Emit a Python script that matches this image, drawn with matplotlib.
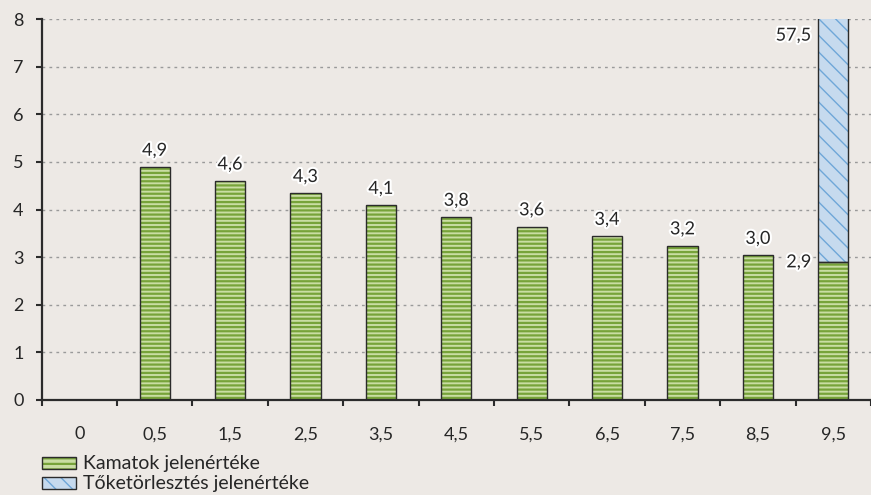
import numpy as np
import matplotlib.pyplot as plt
import matplotlib.patheffects as pe
from matplotlib.patches import Rectangle

# Data
categories = ["0", "0,5", "1,5", "2,5", "3,5", "4,5", "5,5", "6,5", "7,5", "8,5", "9,5"]
interest = [0, 4.89, 4.60, 4.34, 4.09, 3.84, 3.64, 3.44, 3.24, 3.04, 2.89]
principal = [0, 0, 0, 0, 0, 0, 0, 0, 0, 0, 57.5]
series_names = ["Kamatok jelenértéke", "Tőketörlesztés jelenértéke"]

BG = "#EDE9E5"
GREEN_LIGHT = "#C9DDA3"
GREEN_DARK = "#77A33A"
BLUE_LIGHT = "#C6DAEE"
BLUE_DARK = "#6FA7D8"
OUTLINE = "#2B2B2B"
TEXT = "#262626"
FS = 13

W, H = 871, 495

plt.rcParams['font.family'] = ['Lato', 'DejaVu Sans']
plt.rcParams['hatch.linewidth'] = 1.6

fig = plt.figure(figsize=(W / 100, H / 100), dpi=100, facecolor=BG)
ax = fig.add_axes([41.5 / W, 95 / H, 829.5 / W, 381 / H])
ax.set_facecolor(BG)

x = np.arange(len(categories))
width = 0.4

# green bars: hatch drawn in edge color, outline drawn separately
ax.bar(x, interest, width, color=GREEN_LIGHT, edgecolor=GREEN_DARK, hatch='----', linewidth=0, zorder=3)
ax.bar(x, interest, width, fill=False, edgecolor=OUTLINE, linewidth=1.0, zorder=4)

pr = np.array(principal)
mask = pr > 0
plt.rcParams['hatch.linewidth'] = 1.0
ax.bar(x[mask], pr[mask], width, bottom=np.array(interest)[mask], color=BLUE_LIGHT,
       edgecolor=BLUE_DARK, hatch='\\\\', linewidth=0, zorder=3)
ax.bar(x[mask], pr[mask], width, bottom=np.array(interest)[mask], fill=False,
       edgecolor=OUTLINE, linewidth=1.0, zorder=4)

stroke = [pe.withStroke(linewidth=3, foreground='white')]

# value labels
for i, v in enumerate(interest):
    if v == 0:
        continue
    lab = f"{v:.1f}".replace('.', ',')
    if principal[i] > 0:
        ax.annotate(lab, (x[i] - width / 2, v), xytext=(-5, 0), textcoords='offset points',
                    ha='right', va='center', fontsize=FS, color=TEXT, path_effects=stroke, zorder=5)
        plab = f"{principal[i]:.1f}".replace('.', ',')
        ax.annotate(plab, (x[i] - width / 2, 8), xytext=(-5, -12), textcoords='offset points',
                    ha='right', va='center', fontsize=FS, color=TEXT, path_effects=stroke, zorder=5)
    else:
        ax.annotate(lab, (x[i], v), xytext=(0, 6), textcoords='offset points',
                    ha='center', va='bottom', fontsize=FS, color=TEXT, path_effects=stroke, zorder=5)

ax.set_ylim(0, 8)
ax.set_xlim(-0.5, 10.43)
ax.set_yticks(range(0, 9))
ax.set_xticks(np.arange(-0.5, len(categories), 1.0))
ax.set_xticklabels([])
ax.set_xticks(x, minor=True)
ax.set_xticklabels(categories, minor=True)
ax.tick_params(axis='x', which='major', direction='out', length=4, width=1.5, color=OUTLINE)
ax.tick_params(axis='x', which='minor', length=0, pad=19, labelsize=FS, labelcolor=TEXT)
ax.tick_params(axis='y', direction='out', length=4, width=1.5, color=OUTLINE, pad=9,
               labelsize=FS, labelcolor=TEXT)

for s in ['top', 'right']:
    ax.spines[s].set_visible(False)
for s in ['left', 'bottom']:
    ax.spines[s].set_linewidth(1.6)
    ax.spines[s].set_color(OUTLINE)
ax.spines['bottom'].set_zorder(6)

ax.yaxis.grid(True, color='#9A9A9A', linestyle=(0, (2, 3)), linewidth=1.0, zorder=1)
ax.set_axisbelow(True)

# legend, drawn by hand in figure pixels (rows are tighter than a Legend allows)
legend_styles = [(GREEN_LIGHT, GREEN_DARK, '---', 1.6), (BLUE_LIGHT, BLUE_DARK, '\\\\', 1.0)]
row_top = [457, 477]
for name, (fc, hc, hatch, hlw), top in zip(series_names, legend_styles, row_top):
    plt.rcParams['hatch.linewidth'] = hlw
    y0 = 1 - (top + 12) / H
    fig.add_artist(Rectangle((42 / W, y0), 34 / W, 12 / H, transform=fig.transFigure,
                             facecolor=fc, edgecolor=hc, hatch=hatch, linewidth=0))
    fig.add_artist(Rectangle((42 / W, y0), 34 / W, 12 / H, transform=fig.transFigure,
                             fill=False, edgecolor=OUTLINE, linewidth=1.0))
    fig.text(83 / W, 1 - (top + 12) / H, name, fontsize=14, color=TEXT,
             ha='left', va='baseline')

fig.savefig("out.png", dpi=100, facecolor=BG)
